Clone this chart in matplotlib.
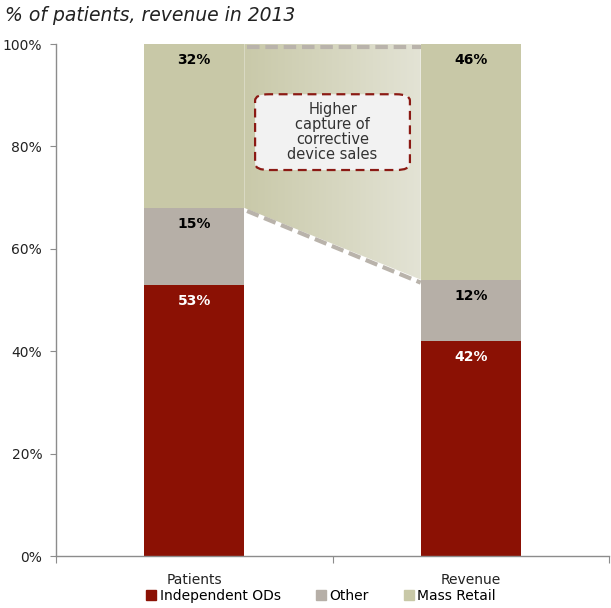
import numpy as np
import matplotlib.pyplot as plt
from matplotlib.patches import Polygon, FancyBboxPatch
from matplotlib.colors import LinearSegmentedColormap
from matplotlib.lines import Line2D

categories = ["Patients", "Revenue"]
segments = ["Independent ODs", "Other", "Mass Retail"]
independent_ods = [53, 42]
other = [15, 12]
mass_retail = [32, 46]

colors = ["#8b1104", "#b6afa7", "#c8c8a7"]
label_colors = ["white", "black", "black"]

plt.rcParams['font.family'] = ['DejaVu Sans']

fig = plt.figure(figsize=(6.11, 6.08), dpi=100)
ax = fig.add_axes([0.0917, 0.0855, 0.905, 0.842])

x = np.arange(len(categories))
width = 0.362
bottom = np.zeros(len(categories))
for vals, col, lc in zip([independent_ods, other, mass_retail], colors, label_colors):
    vals = np.array(vals, dtype=float)
    ax.bar(x, vals, width, bottom=bottom, color=col, zorder=2)
    for xi, b, v in zip(x, bottom, vals):
        ax.text(xi, b + v - 3.2, f"{v:.0f}%", ha="center", va="center",
                fontsize=10, fontweight="bold", color=lc, zorder=4)
    bottom += vals

# shaded wedge between the two bars showing the shift to mass retail
x0 = x[0] + width / 2
x1 = x[1] - width / 2
low0 = independent_ods[0] + other[0]
low1 = independent_ods[1] + other[1]
poly = Polygon([[x0, 100], [x1, 100], [x1, low1], [x0, low0]], closed=True,
               facecolor="none", edgecolor="none")
ax.add_patch(poly)
cmap = LinearSegmentedColormap.from_list("shade", ["#c9c9a9", "#e3e3d5"])
grad = np.linspace(0, 1, 256).reshape(1, -1)
im = ax.imshow(grad, cmap=cmap, extent=[x0, x1, low1, 100], aspect="auto",
               zorder=1, interpolation="bilinear")
im.set_clip_path(poly)

ax.plot([x0 + 0.01, x1], [99.4, 99.4], color="#b9b3ab", lw=3,
        dashes=(3, 1.4), zorder=3)
ax.plot([x0 + 0.01, x1], [low0 - 0.6, low1 - 0.6], color="#b9b3ab", lw=3,
        dashes=(3, 1.4), zorder=3)

# callout
bx, by, bw, bh = 0.22, 75.4, 0.56, 14.8
box = FancyBboxPatch((bx, by), bw, bh, boxstyle="round,pad=0,rounding_size=0.05",
                     mutation_aspect=25, facecolor="#f2f2f2", edgecolor="#8b1a14",
                     lw=1.6, linestyle=(0, (4, 2.5)), zorder=3)
ax.add_patch(box)
ax.text(bx + bw / 2, by + bh / 2, "Higher\ncapture of\ncorrective\ndevice sales",
        ha="center", va="center", fontsize=10.5, color="#333333",
        linespacing=1.0, zorder=4)

ax.set_xlim(-0.5, 1.5)
ax.set_ylim(0, 100)
ax.set_yticks(np.arange(0, 101, 20))
ax.set_yticklabels([f"{v}%" for v in range(0, 101, 20)])
ax.set_xticks([-0.5, 0.5, 1.5], minor=False)
ax.set_xticklabels([])
ax.set_xticks(x, minor=True)
ax.set_xticklabels(categories, minor=True)
ax.tick_params(axis="x", which="major", length=5, color="#8c8c8c")
ax.tick_params(axis="x", which="minor", length=0, pad=12, labelsize=10, labelcolor="#222222")
ax.tick_params(axis="y", length=4, color="#8c8c8c", labelsize=10, labelcolor="#222222", pad=6)
for s in ["top", "right"]:
    ax.spines[s].set_visible(False)
for s in ["left", "bottom"]:
    ax.spines[s].set_color("#8c8c8c")
    ax.spines[s].set_linewidth(1)

handles = [Line2D([], [], marker="s", linestyle="none", markersize=7,
                  markerfacecolor=c, markeredgecolor=c) for c in colors]
fig.legend(handles, segments, loc="lower center", bbox_to_anchor=(0.524, -0.012),
           ncol=3, frameon=False, fontsize=10, handletextpad=0.1,
           columnspacing=2.4, handlelength=1.0)

fig.text(0.008, 0.975, "% of patients, revenue in 2013", fontsize=13.5,
         style="italic", color="#222222", ha="left", va="center")

fig.savefig("out.png", dpi=100)
